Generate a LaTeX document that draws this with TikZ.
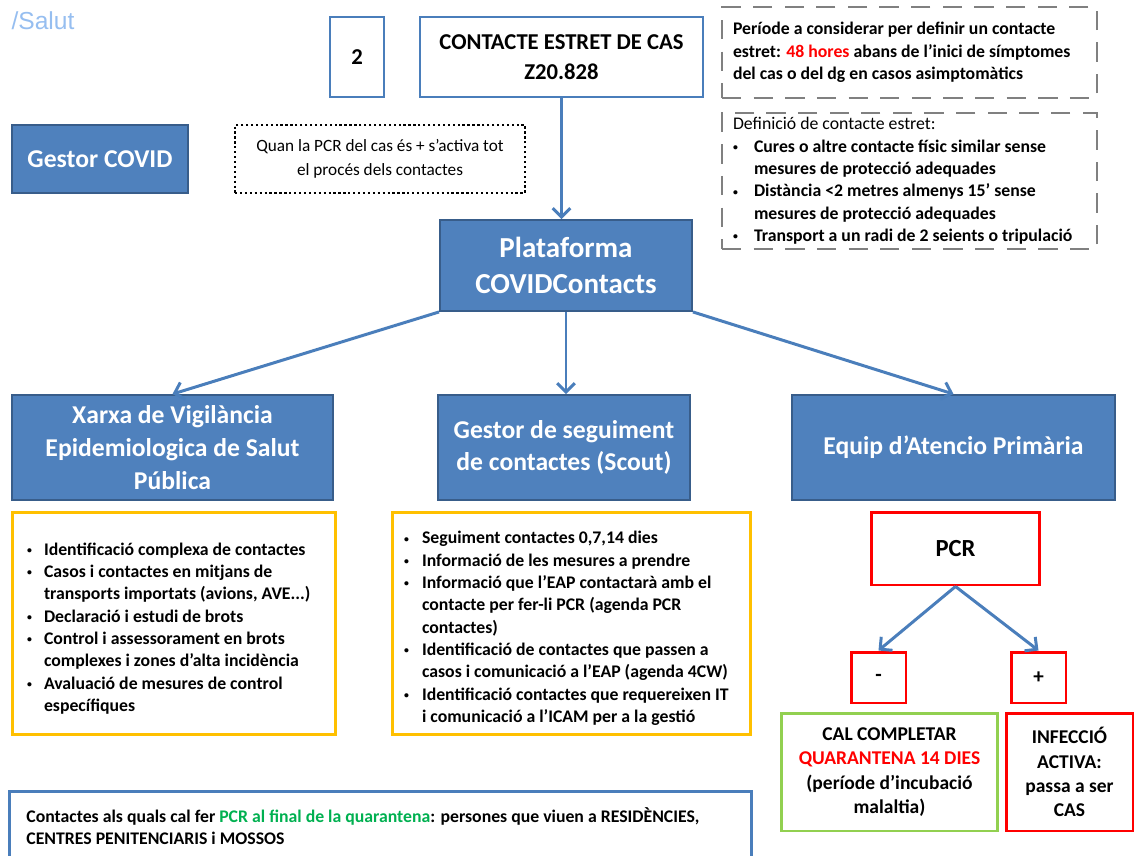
\documentclass[tikz,border=0pt]{standalone}
\usepackage{fontspec}
\setmainfont{Carlito}
\newfontfamily\salutfont{Liberation Sans}
\usetikzlibrary{arrows.meta}

\definecolor{boxblue}{RGB}{79,129,189}
\definecolor{edgeblue}{RGB}{56,93,138}
\definecolor{lineblue}{RGB}{74,126,187}
\definecolor{amber}{RGB}{255,192,0}
\definecolor{alertred}{RGB}{255,0,0}
\definecolor{leafgreen}{RGB}{146,208,80}
\definecolor{textgreen}{RGB}{0,176,80}
\definecolor{dashgray}{RGB}{128,128,128}
\definecolor{salutblue}{RGB}{150,190,240}

\newcommand{\bitem}[1][0.36cm]{\par\noindent\hangindent=#1\hangafter=1%
  \makebox[#1][l]{\raisebox{0.2ex}{\scalebox{0.55}{\textbullet}}}\ignorespaces}

\begin{document}
\begin{tikzpicture}[x=0.02cm, y=-0.02cm, >={Straight Barb[length=5pt,width=10pt]},
  bluebox/.style={draw=edgeblue, fill=boxblue, line width=1.1pt, text=white, align=center, inner sep=0pt,
    font=\fontsize{14.6}{18.7}\selectfont\bfseries},
  headbox/.style={draw=lineblue, line width=1.6pt, fill=white, align=center, inner sep=0pt,
    font=\fontsize{12.9}{17}\selectfont\bfseries},
  notebox/.style={draw=dashgray, line width=1.6pt, dash pattern=on 11pt off 7pt, align=flush left,
    inner xsep=0.22cm, inner ysep=0pt, font=\fontsize{10.1}{12.7}\selectfont\bfseries},
  listbox/.style={draw=amber, line width=1.7pt, align=flush left, inner ysep=0pt,
    font=\fontsize{10.1}{12.7}\selectfont\bfseries},
  redbox/.style={draw=alertred, line width=1.7pt, align=center, inner sep=0pt, font=\bfseries},
  flow/.style={->, draw=lineblue, line width=1.7pt}]

  \clip (0,0) rectangle (1134,856);

  % Header
  \node[text=salutblue, font=\salutfont\fontsize{14}{16}\selectfont] (salut) at (43,21) {/Salut};
  \node[headbox, minimum width=1.08cm, minimum height=1.6cm] (num) at (357,57) {2};
  \node[headbox, minimum width=5.66cm, minimum height=1.6cm] (contact) at (561.5,57)
    {CONTACTE ESTRET DE CAS\\Z20.828};

  % Notes on the right
  \node[notebox, text width=7.06cm, minimum height=1.82cm] (period) at (909.5,52.5)
    {Període a considerar per definir un contacte\\
     estret: {\color{alertred}48 hores} abans de l’inici de símptomes\\
     del cas o del dg en casos asimptomàtics};
  \node[notebox, text width=7.06cm, minimum height=2.72cm] (defin) at (909.5,181)
    {{\mdseries Definició de contacte estret:}
     \bitem[0.42cm] Cures o altre contacte físic similar sense\newline mesures de protecció adequades
     \bitem[0.42cm] Distància <2 metres almenys 15’ sense\newline mesures de protecció adequades
     \bitem[0.42cm] Transport a un radi de 2 seients o tripulació\par};

  \node[bluebox, minimum width=3.52cm, minimum height=1.36cm] (gestor) at (100,159) {Gestor COVID};
  \node[draw=black, line width=1.3pt, dash pattern=on 1.3pt off 1.5pt, align=center, inner sep=0pt,
    minimum width=5.8cm, minimum height=1.36cm, font=\fontsize{9.8}{13.5}\selectfont] (trigger) at (380,159)
    {Quan la PCR del cas és + s’activa tot\\el procés dels contactes};

  % Platform and branches
  \node[bluebox, minimum width=5.04cm, minimum height=1.82cm, font=\fontsize{16.5}{20.2}\selectfont\bfseries]
    (plat) at (566,265.5) {Plataforma\\COVIDContacts};
  \node[bluebox, minimum width=6.42cm, minimum height=2.1cm] (xarxa) at (172.5,447.5)
    {Xarxa de Vigilància\\Epidemiologica de Salut\\Pública};
  \node[bluebox, minimum width=5.04cm, minimum height=2.1cm] (scout) at (564,447.5)
    {Gestor de seguiment\\de contactes (Scout)};
  \node[bluebox, minimum width=6.46cm, minimum height=2.1cm] (eap) at (953.5,447.5)
    {Equip d’Atencio Primària};

  % Task lists
  \node[listbox, inner xsep=0.3cm, text width=5.88cm, minimum height=4.46cm] (xarxalist) at (174,623.5)
    {\bitem[0.34cm] Identificació complexa de contactes
     \bitem[0.34cm] Casos i contactes en mitjans de\newline transports importats (avions, AVE...)
     \bitem[0.34cm] Declaració i estudi de brots
     \bitem[0.34cm] Control i assessorament en brots\newline complexes i zones d’alta incidència
     \bitem[0.34cm] Avaluació de mesures de control\newline específiques\par};
  \node[listbox, inner xsep=0.24cm, text width=6.7cm, minimum height=4.46cm] (scoutlist) at (571.5,623.5)
    {\bitem Seguiment contactes 0,7,14 dies
     \bitem Informació de les mesures a prendre
     \bitem Informació que l’EAP contactarà amb el\newline contacte per fer-li PCR (agenda PCR\newline contactes)
     \bitem Identificació de contactes que passen a\newline casos i comunicació a l’EAP (agenda 4CW)
     \bitem Identificació contactes que requereixen IT\newline i comunicació a l’ICAM per a la gestió\par};

  % PCR result
  \node[redbox, minimum width=3.38cm, minimum height=1.46cm, font=\fontsize{14}{17}\selectfont\bfseries]
    (pcr) at (955.5,548.5) {PCR};
  \node[redbox, minimum width=1.1cm, minimum height=1.02cm, font=\fontsize{12}{14}\selectfont\bfseries]
    (neg) at (878.5,677.5) {-};
  \node[redbox, minimum width=1.1cm, minimum height=1.02cm, font=\fontsize{12}{14}\selectfont\bfseries]
    (pos) at (1038.5,677.5) {+};
  \node[redbox, draw=leafgreen, minimum width=4.34cm, minimum height=2.36cm,
    font=\fontsize{11.1}{13.8}\selectfont\bfseries] (quar) at (889.5,772)
    {CAL COMPLETAR\\{\color{alertred}QUARANTENA 14 DIES}\\(període d’incubació\\malaltia)};
  \node[redbox, minimum width=2.54cm, minimum height=2.36cm,
    font=\fontsize{11.1}{13.8}\selectfont\bfseries] (infec) at (1069.5,772)
    {INFECCIÓ\\ACTIVA:\\passa a ser\\CAS};

  \node[draw=lineblue, line width=1.6pt, anchor=north west, align=flush left, inner xsep=0.34cm, inner ysep=0pt,
    text width=14.16cm, minimum height=1.4cm, font=\fontsize{10.1}{12.7}\selectfont\bfseries] (final) at (8,790)
    {Contactes als quals cal fer {\color{textgreen}PCR al final de la quarantena}: persones que viuen a RESIDÈNCIES,\\
     CENTRES PENITENCIARIS i MOSSOS};

  % Arrows
  \draw[flow] (contact.south) -- (contact.south |- plat.north);
  \draw[flow] (plat.south west) -- (xarxa.north);
  \draw[flow] (plat.south) -- (plat.south |- scout.north);
  \draw[flow] (plat.south east) -- (eap.north);
  \draw[flow] (pcr.south) -- (neg.north);
  \draw[flow] (pcr.south) -- (pos.north);

\end{tikzpicture}
\end{document}
